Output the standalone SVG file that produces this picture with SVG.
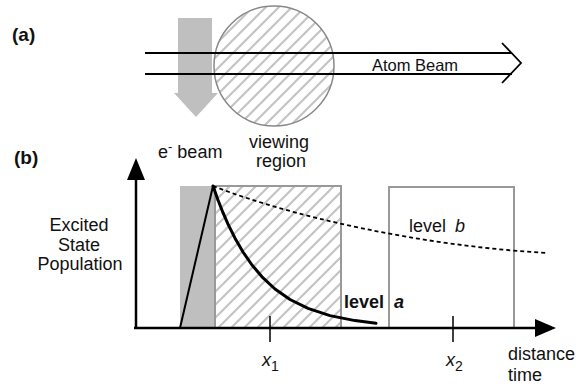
<svg xmlns="http://www.w3.org/2000/svg" width="585" height="387" viewBox="0 0 585 387">
<defs>
<pattern id="hatch" patternUnits="userSpaceOnUse" width="13" height="13">
<path d="M-3,3 L3,-3 M0,13 L13,0 M10,16 L16,10" stroke="#c4c4c4" stroke-width="2.2" fill="none"/>
</pattern>
<style>
text{font-family:"Liberation Sans",Arial,Helvetica,sans-serif;fill:#111;}
.lbl{font-size:18px;}
.bold{font-weight:bold;}
.ax{stroke:#000;stroke-width:2.5;fill:none;}
.box{stroke:#999;stroke-width:2;}
</style>
</defs>
<rect width="585" height="387" fill="#fff"/>

<g id="panel-a">
<text class="bold" x="12" y="41" font-size="19">(a)</text>
<g id="e-beam-arrow">
<polygon points="178,18 212,18 212,93 218,93 196,117 174,93 178,93" fill="#bfbfbf"/>
</g>
<g id="viewing-circle">
<circle cx="274" cy="66" r="60" fill="url(#hatch)" stroke="#888" stroke-width="1.5"/>
</g>
<g id="atom-beam" stroke="#000" stroke-width="1.8" fill="none">
<line x1="145" y1="53" x2="512" y2="53"/>
<line x1="145" y1="74" x2="512" y2="74"/>
<polyline points="502,43 521,63 502,83"/>
</g>
<text x="415" y="71" font-size="16.5" text-anchor="middle">Atom Beam</text>
</g>

<g id="panel-b">
<text class="bold" x="14" y="164" font-size="19">(b)</text>
<text class="lbl" x="158" y="158">e<tspan font-size="13" dy="-7">-</tspan><tspan dy="7"> beam</tspan></text>
<text class="lbl" x="279" y="148" text-anchor="middle">viewing</text>
<text class="lbl" x="281" y="167" text-anchor="middle">region</text>

<g id="e-beam-region"><rect x="180" y="186" width="35" height="142" fill="#bfbfbf"/></g>
<g id="viewing-region"><rect class="box" x="215" y="186" width="126" height="142" fill="url(#hatch)"/></g>
<g id="x2-region"><rect class="box" x="389" y="187" width="125" height="141" fill="none"/></g>

<g id="connectors">
<line class="ax" x1="136" y1="329" x2="136" y2="176"/>
<polygon points="136,158 145,180 127,180" fill="#000"/>
<line class="ax" x1="134" y1="328" x2="538" y2="328"/>
<polygon points="556,328 535,319 535,337" fill="#000"/>
<line x1="270" y1="316" x2="270" y2="342" stroke="#000" stroke-width="1.5"/>
<line x1="453" y1="316" x2="453" y2="342" stroke="#000" stroke-width="1.5"/>
<line x1="180" y1="328" x2="213" y2="186" stroke="#000" stroke-width="2"/>
<polyline points="213,186 218,200 223,212.7 228,224.1 235,238.2 243,252 252,265 262,276.8 275,289 290,299.5 308,308.4 330,315.6 355,320.6 376,323.2" fill="none" stroke="#000" stroke-width="3" stroke-linejoin="round" stroke-linecap="round"/>
<path d="M213,186 C290,216 420,246 548,253" fill="none" stroke="#000" stroke-width="1.8" stroke-dasharray="4,3"/>
</g>

<text class="lbl" x="79" y="231" text-anchor="middle">Excited</text>
<text class="lbl" x="79" y="251" text-anchor="middle">State</text>
<text class="lbl" x="80" y="270" text-anchor="middle">Population</text>

<text class="lbl" x="409" y="232">level <tspan font-style="italic" dx="4">b</tspan></text>
<text class="lbl bold" x="344" y="308">level <tspan font-style="italic" dx="5">a</tspan></text>

<text class="lbl" x="262" y="366" font-style="italic">x<tspan font-style="normal" font-size="14" dy="5">1</tspan></text>
<text class="lbl" x="446" y="366" font-style="italic">x<tspan font-style="normal" font-size="14" dy="5">2</tspan></text>

<text class="lbl" x="508" y="360">distance</text>
<text class="lbl" x="508" y="381">time</text>
</g>
</svg>
